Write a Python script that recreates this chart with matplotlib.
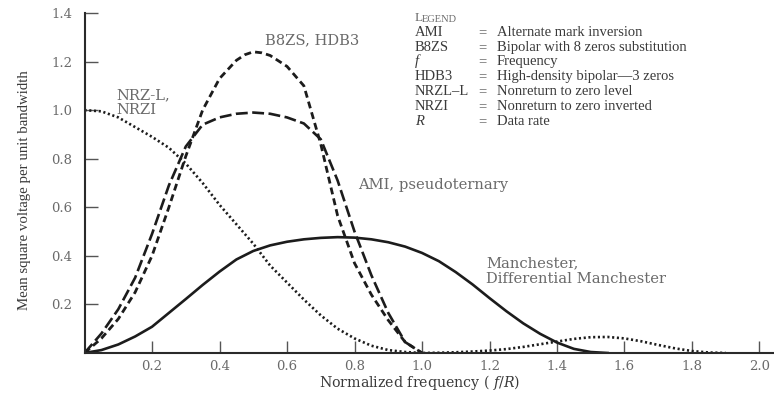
import matplotlib
matplotlib.use("Agg")
import matplotlib.pyplot as plt

plt.rcParams["font.family"] = ["Liberation Serif", "DejaVu Serif"]
plt.rcParams["mathtext.fontset"] = "custom"
plt.rcParams["mathtext.rm"] = "DejaVu Serif"
plt.rcParams["mathtext.it"] = "DejaVu Serif:italic"

WIDE = ["DejaVu Serif"]

# Normalized frequency samples (f/R) and spectral density per line code
nrz_f = [0.0, 0.05, 0.1, 0.15, 0.2, 0.25, 0.3, 0.35, 0.4, 0.45, 0.5, 0.55, 0.6,
         0.65, 0.7, 0.75, 0.8, 0.85, 0.9, 0.95, 1.0, 1.05, 1.1, 1.15, 1.2, 1.25,
         1.3, 1.35, 1.4, 1.45, 1.5, 1.55, 1.6, 1.65, 1.7, 1.75, 1.8, 1.85, 1.9]
nrz_v = [1.0, 0.995, 0.97, 0.93, 0.89, 0.845, 0.78, 0.70, 0.61, 0.53, 0.45, 0.36,
         0.29, 0.22, 0.155, 0.10, 0.06, 0.03, 0.012, 0.004, 0.0, 0.001, 0.003,
         0.006, 0.010, 0.016, 0.025, 0.036, 0.047, 0.058, 0.065, 0.066, 0.060,
         0.048, 0.033, 0.019, 0.008, 0.002, 0.0]

ami_f = [0.0, 0.05, 0.1, 0.15, 0.2, 0.25, 0.3, 0.35, 0.4, 0.45, 0.5, 0.55, 0.6,
         0.65, 0.7, 0.75, 0.8, 0.85, 0.9, 0.95, 1.0]
ami_v = [0.0, 0.08, 0.18, 0.31, 0.49, 0.69, 0.85, 0.94, 0.97, 0.985, 0.99, 0.985,
         0.97, 0.945, 0.88, 0.71, 0.50, 0.32, 0.165, 0.045, 0.0]

b8zs_f = [0.0, 0.05, 0.1, 0.15, 0.2, 0.25, 0.3, 0.35, 0.4, 0.45, 0.475, 0.5, 0.525,
          0.55, 0.6, 0.65, 0.7, 0.75, 0.8, 0.85, 0.9, 0.95, 1.0]
b8zs_v = [0.0, 0.06, 0.14, 0.25, 0.40, 0.60, 0.81, 1.00, 1.13, 1.205, 1.228, 1.24,
          1.236, 1.225, 1.18, 1.10, 0.86, 0.565, 0.37, 0.24, 0.135, 0.045, 0.0]

man_f = [0.0, 0.05, 0.1, 0.15, 0.2, 0.25, 0.3, 0.35, 0.4, 0.45, 0.5, 0.55, 0.6,
         0.65, 0.7, 0.75, 0.8, 0.85, 0.9, 0.95, 1.0, 1.05, 1.1, 1.15, 1.2, 1.25,
         1.3, 1.35, 1.4, 1.45, 1.5, 1.55]
man_v = [0.0, 0.012, 0.035, 0.068, 0.108, 0.165, 0.222, 0.28, 0.335, 0.385, 0.42,
         0.443, 0.458, 0.468, 0.474, 0.477, 0.475, 0.468, 0.456, 0.438, 0.412, 0.378,
         0.333, 0.282, 0.226, 0.172, 0.122, 0.079, 0.043, 0.017, 0.004, 0.0]

x_ticks = [0.2, 0.4, 0.6, 0.8, 1.0, 1.2, 1.4, 1.6, 1.8, 2.0]
y_ticks = [0.2, 0.4, 0.6, 0.8, 1.0, 1.2, 1.4]

legend_abbr = ["AMI", "B8ZS", "f", "HDB3", "NRZL\u2013L", "NRZI", "R"]
legend_desc = ["Alternate mark inversion", "Bipolar with 8 zeros substitution",
               "Frequency", "High-density bipolar\u20143 zeros",
               "Nonreturn to zero level", "Nonreturn to zero inverted", "Data rate"]
legend_italic = [False, False, True, False, False, False, True]

LINE = "#1c1c1c"
TEXT = "#6a6a6a"
DARK = "#3a3a3a"

fig = plt.figure(figsize=(7.74, 3.98), dpi=100)
ax = fig.add_axes([0.1092, 0.1131, 0.8908, 0.8543])

ax.plot(nrz_f, nrz_v, color=LINE, lw=1.9, linestyle=(0, (0.8, 1.0)),
        dash_capstyle="butt")
ax.plot(ami_f, ami_v, color=LINE, lw=1.9, linestyle=(0, (4.5, 1.7)),
        dash_capstyle="butt")
ax.plot(b8zs_f, b8zs_v, color=LINE, lw=2.0, linestyle=(0, (2.5, 1.5)),
        dash_capstyle="butt")
ax.plot(man_f, man_v, color=LINE, lw=1.9)

ax.set_xlim(0, 2.043)
ax.set_ylim(0, 1.4)
for side in ("top", "right"):
    ax.spines[side].set_visible(False)
for side in ("left", "bottom"):
    ax.spines[side].set_color("#2a2a2a")
    ax.spines[side].set_linewidth(1.5)

ax.set_xticks(x_ticks)
ax.set_xticklabels([f"{t:.1f}" for t in x_ticks])
ax.set_yticks(y_ticks)
ax.set_yticklabels([f"{t:.1f}" for t in y_ticks])
ax.tick_params(axis="both", direction="in", length=9, width=1.0, color="#555555",
               labelcolor=TEXT, labelsize=9.5)
for lab in ax.get_xticklabels() + ax.get_yticklabels():
    lab.set_fontfamily(WIDE)
ax.tick_params(axis="y", pad=9)
ax.tick_params(axis="x", pad=5)

fig.text(25 / 774, 1 - 190 / 398, "Mean square voltage per unit bandwidth",
         rotation=90, ha="center", va="center", fontsize=10.7, color=DARK)
fig.text(420 / 774, 1 - 383 / 398, r"Normalized frequency ( $f/R$)",
         ha="center", va="center", fontsize=10.2, color=DARK, family=WIDE)

# Curve labels
ann = dict(color=TEXT, va="center", ha="left", family=WIDE, fontsize=10.6)
ax.text((265 - 84.5) / 337.5, (353 - 41) / 242.5, "B8ZS, HDB3", **ann)
ax.text((116 - 84.5) / 337.5, (353 - 96) / 242.5, "NRZ-L,", **ann)
ax.text((116 - 84.5) / 337.5, (353 - 110) / 242.5, "NRZI", **ann)
ax.text((358 - 84.5) / 337.5, (353 - 185) / 242.5, "AMI, pseudoternary", **ann)
ax.text((486 - 84.5) / 337.5, (353 - 263) / 242.5, "Manchester,", **ann)
ax.text((486 - 84.5) / 337.5, (353 - 279) / 242.5, "Differential Manchester", **ann)

# Abbreviation key
key_x = (415 - 84.5) / 337.5
eq_x = (478 - 84.5) / 337.5
desc_x = (497 - 84.5) / 337.5
head_y = (353 - 19) / 242.5
ax.text(key_x, head_y, "L", fontsize=9.5, color=TEXT, va="center", ha="left")
ax.text(key_x + 0.0205, head_y - 0.003, "EGEND", fontsize=7.5, color=TEXT,
        va="center", ha="left")
row_px = [33, 48, 62, 77, 92, 107, 122]
for py, abbr, desc, it in zip(row_px, legend_abbr, legend_desc, legend_italic):
    y = (353 - py) / 242.5
    ax.text(key_x, y, abbr, fontsize=10.5, color=DARK, va="center", ha="left",
            style="italic" if it else "normal")
    ax.text(eq_x, y, "=", fontsize=10.5, color=TEXT, va="center", ha="left")
    ax.text(desc_x, y, desc, fontsize=10.5, color=DARK, va="center", ha="left")

fig.savefig("out.png", dpi=100)
